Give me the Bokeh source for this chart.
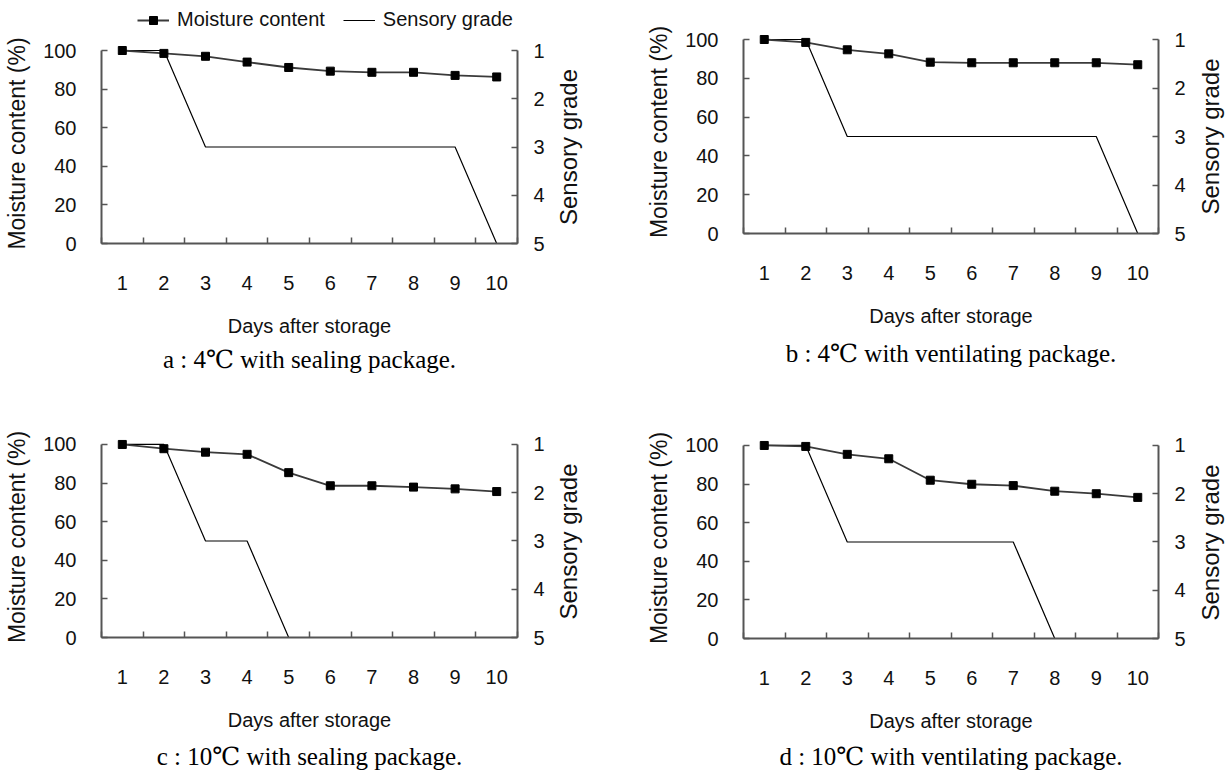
import math
from bokeh.plotting import figure
from bokeh.models import Range1d, LinearAxis, FixedTicker, Title, Legend, LegendItem
from bokeh.core.properties import value
from bokeh.layouts import column, row
from bokeh.embed import file_html
from bokeh.resources import INLINE

# ---------------- data ----------------
days = [1, 2, 3, 4, 5, 6, 7, 8, 9, 10]
moisture_a = [100, 98.5, 97.0, 94.0, 91.2, 89.3, 88.7, 88.7, 87.1, 86.3]
moisture_b = [100, 98.5, 94.7, 92.6, 88.3, 88.0, 88.0, 88.0, 88.0, 87.0]
moisture_c = [100, 97.8, 96.0, 94.9, 85.4, 78.6, 78.6, 77.9, 77.0, 75.6]
moisture_d = [100, 99.5, 95.4, 93.1, 82.0, 79.9, 79.2, 76.3, 75.0, 73.1]
grade_a = [1, 1, 3, 3, 3, 3, 3, 3, 3, 5]
grade_b = [1, 1, 3, 3, 3, 3, 3, 3, 3, 5]
grade_c = [1, 1, 3, 3, 5]
grade_d = [1, 1, 3, 3, 3, 3, 3, 5]
moisture_ticks = [0, 20, 40, 60, 80, 100]
grade_ticks = [1, 2, 3, 4, 5]
captions = [
    "a : 4\u2103 with sealing package.",
    "b : 4\u2103 with ventilating package.",
    "c : 10\u2103 with sealing package.",
    "d : 10\u2103 with ventilating package.",
]
x_title = "Days after storage"
y_title = "Moisture content (%)"
y2_title = "Sensory grade"
legend_labels = ["Moisture content", "Sensory grade"]

# ---------------- style / layout ----------------
SANS = "Liberation Sans"
SERIF = "Liberation Serif, DejaVu Serif"
AXIS_COLOR = "#555555"
TICK_FONT = "20px"
XLABEL_FONT = "20px"
YLABEL_FONT = "23px"
Y2LABEL_FONT = "24px"
CAPTION_FONT = "25px"
MOIST_LINE = dict(line_color="#3a3a3a", line_width=1.8)
MOIST_PTS = dict(marker="square", size=8, fill_color="#000000", line_color="#000000")
GRADE_LINE = dict(line_color="#000000", line_width=1.2)

# w/h: figure size; left/right/top/bottom: borders; p100: pixel row of the 100 % tick
# strip: width of the side strip holding the rotated "Sensory grade" title,
# sx: its centre inside the strip, shift: extra strip height above the panel
layouts = [
    dict(w=553, h=359, left=101, right=36, top=9, bottom=150, p100=16, cap_standoff=9,
         strip=75, sx=15, shift=34),
    dict(w=566, h=390, left=115, right=36, top=30, bottom=157, p100=39, cap_standoff=16,
         strip=37, sx=16, shift=0),
    dict(w=553, h=383, left=101, right=36, top=43, bottom=138, p100=51, cap_standoff=14,
         strip=75, sx=15, shift=0),
    dict(w=566, h=386, left=115, right=36, top=47, bottom=137, p100=55, cap_standoff=13,
         strip=37, sx=16, shift=0),
]
LEGEND_BOX = dict(w=553, h=34, left=101, right=36, x=36, y=3)

moistures = [moisture_a, moisture_b, moisture_c, moisture_d]
grades = [grade_a, grade_b, grade_c, grade_d]

boundaries = [d - 0.5 for d in days] + [days[-1] + 0.5]
m_lo, m_hi = moisture_ticks[0], moisture_ticks[-1]
g_lo, g_hi = grade_ticks[0], grade_ticks[-1]


def blank_figure(w, h, xr, yr, left=0, right=0, top=0, bottom=0):
    f = figure(width=w, height=h, output_backend="svg", toolbar_location=None,
               x_range=xr, y_range=yr,
               min_border_left=left, min_border_right=right,
               min_border_top=top, min_border_bottom=bottom,
               x_axis_type=None, y_axis_type=None)
    f.outline_line_color = None
    f.grid.visible = False
    f.background_fill_color = "white"
    f.border_fill_color = "white"
    return f


def style_axis(ax, label, label_font, tick_standoff, label_standoff):
    ax.axis_line_color = AXIS_COLOR
    ax.axis_line_width = 2
    ax.major_tick_line_color = AXIS_COLOR
    ax.major_tick_line_width = 1.5
    ax.major_label_standoff = tick_standoff
    ax.major_label_text_font = SANS
    ax.major_label_text_font_size = TICK_FONT
    ax.major_label_text_color = "#111111"
    ax.axis_label = label
    ax.axis_label_text_font = SANS
    ax.axis_label_text_font_size = label_font
    ax.axis_label_text_font_style = "normal"
    ax.axis_label_text_color = "#111111"
    ax.axis_label_standoff = label_standoff


def make_panel(moist, grade, caption, L):
    fh = L["h"] - L["top"] - L["bottom"]
    ytop = m_hi * fh / (fh - (L["p100"] - L["top"]))
    p = blank_figure(L["w"], L["h"], Range1d(boundaries[0], boundaries[-1]), Range1d(m_lo, ytop),
                     L["left"], L["right"], L["top"], L["bottom"])

    g_end = g_hi - (g_hi - g_lo) * ytop / m_hi
    p.extra_y_ranges = {"grade": Range1d(start=g_hi, end=g_end)}

    # x axis: labels at days, tick marks between days
    xa = LinearAxis(ticker=FixedTicker(ticks=days, minor_ticks=boundaries))
    style_axis(xa, x_title, XLABEL_FONT, 32, 22)
    xa.major_tick_in = 0
    xa.major_tick_out = 0
    xa.minor_tick_in = 6
    xa.minor_tick_out = 0
    xa.minor_tick_line_color = AXIS_COLOR
    xa.minor_tick_line_width = 1.5
    p.add_layout(xa, "below")

    # left axis
    ya = LinearAxis(ticker=FixedTicker(ticks=moisture_ticks, minor_ticks=[]), bounds=(m_lo, m_hi))
    style_axis(ya, y_title, YLABEL_FONT, 25, 10)
    ya.major_tick_in = 6
    ya.major_tick_out = 0
    p.add_layout(ya, "left")

    # right axis (its title is drawn in a side strip so it can read bottom-to-top)
    ra = LinearAxis(y_range_name="grade", ticker=FixedTicker(ticks=grade_ticks, minor_ticks=[]),
                    bounds=(g_lo, g_hi))
    style_axis(ra, None, Y2LABEL_FONT, 16, 0)
    ra.major_tick_in = 6
    ra.major_tick_out = 0
    p.add_layout(ra, "right")

    # series
    gdays = days[:len(grade)]
    p.line(gdays, grade, y_range_name="grade", **GRADE_LINE)
    p.line(days, moist, **MOIST_LINE)
    p.scatter(days, moist, **MOIST_PTS)

    t = Title(text=caption, align="center", text_font=SERIF, text_font_size=CAPTION_FONT,
              text_font_style="normal", text_color="#000000", standoff=L["cap_standoff"])
    p.add_layout(t, "below")
    return p


def make_strip(L):
    # same vertical scale as the panel, so the title centres on the 0-100 span
    hs = L["h"] + L["shift"]
    p100s = L["p100"] + L["shift"]
    p0s = L["h"] - L["bottom"] + L["shift"]
    s = (p0s - p100s) / (m_hi - m_lo)
    yr = Range1d(m_lo - (hs - p0s) / s, m_hi + p100s / s)
    sf = blank_figure(L["strip"], hs, Range1d(0, L["strip"]), yr)
    sf.text(x=[L["sx"]], y=[(m_lo + m_hi) / 2], text=[y2_title], angle=math.pi / 2,
            text_align="center", text_baseline="middle", text_font=value(SANS),
            text_font_size=value(Y2LABEL_FONT), text_color="#111111")
    return sf


def make_legend_box(B):
    # renderers carry real data but sit outside this box's ranges: only the legend shows
    lf = blank_figure(B["w"], B["h"], Range1d(days[0] - 2, days[0] - 1), Range1d(-1, 0),
                      B["left"], B["right"], 0, 0)
    r_mline = lf.line(days, moisture_a, **MOIST_LINE)
    r_mpts = lf.scatter(days, moisture_a, **MOIST_PTS)
    r_grade = lf.line(days, grade_a, **GRADE_LINE)
    leg = Legend(items=[LegendItem(label=legend_labels[0], renderers=[r_mline, r_mpts]),
                        LegendItem(label=legend_labels[1], renderers=[r_grade])],
                 orientation="horizontal", location=(B["x"], B["y"]))
    leg.label_text_font = SANS
    leg.label_text_font_size = TICK_FONT
    leg.label_text_color = "#111111"
    leg.glyph_width = 32
    leg.glyph_height = 20
    leg.label_standoff = 8
    leg.spacing = 18
    leg.padding = 0
    leg.margin = 0
    leg.border_line_color = None
    leg.background_fill_alpha = 0
    lf.add_layout(leg)
    return lf


figs = [make_panel(m, g, c, L) for m, g, c, L in zip(moistures, grades, captions, layouts)]
strips = [make_strip(L) for L in layouts]
legend_box = make_legend_box(LEGEND_BOX)

layout = row(column(legend_box, figs[0], figs[2]), column(strips[0], strips[2]),
             column(figs[1], figs[3]), column(strips[1], strips[3]))

open("out.html", "w").write(file_html(layout, INLINE))
